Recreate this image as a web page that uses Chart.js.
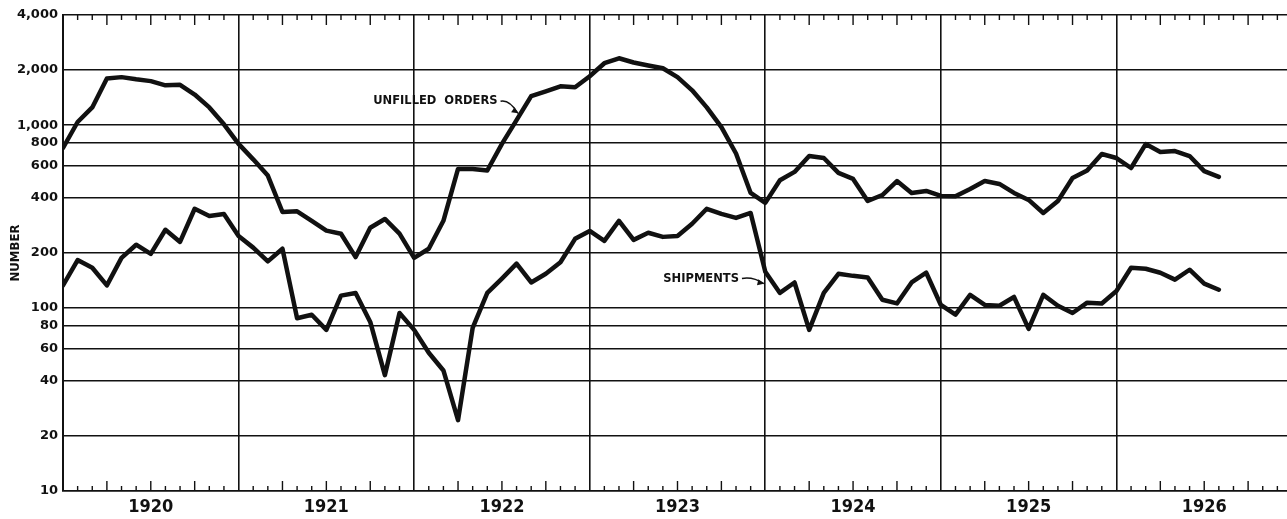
<!DOCTYPE html>
<html>
<head>
<meta charset="utf-8">
<script src="https://cdn.jsdelivr.net/npm/chart.js@4/dist/chart.umd.min.js"></script>
<style>
  html, body { margin: 0; padding: 0; background: #fff; overflow: hidden; }
  #wrap { width: 1298px; height: 519px; position: relative; }
</style>
</head>
<body>
<div id="wrap"><canvas id="chart"></canvas></div>
<script>
// monthly values, Jan 1920 .. Aug 1926 (index 0 = Jan 1920)
const years = ['1920', '1921', '1922', '1923', '1924', '1925', '1926'];
const yTicks = [10, 20, 40, 60, 80, 100, 200, 400, 600, 800, 1000, 2000, 4000];

const unfilledOrders = [
  750, 1040, 1250, 1800, 1830, 1780, 1740, 1650, 1660, 1470, 1250, 1010,
  790, 650, 530, 335, 338, 300, 265, 255, 190, 275, 307, 255,
  188, 211, 300, 576, 575, 565, 790, 1065, 1440, 1530, 1630, 1610,
  1850, 2180, 2320, 2200, 2120, 2045, 1830, 1550, 1250, 975, 700, 426,
  376, 500, 555, 678, 661, 548, 508, 385, 415, 495, 426, 437,
  410, 408, 448, 495, 477, 426, 390, 331, 385, 514, 565, 695,
  661, 583, 788, 713, 722, 678, 561, 521
];

const shipments = [
  133, 183, 166, 133, 188, 222, 198, 268, 230, 349, 319, 327,
  248, 214, 180, 211, 88, 92, 76, 117, 121, 84, 43, 94,
  76, 57, 45.6, 24.4, 78, 121, 145, 175, 138, 154, 178, 239,
  264, 233, 300, 236, 258, 245, 248, 289, 349, 327, 311, 331,
  158, 121, 138, 76, 121, 154, 150, 147, 111, 106, 138, 156,
  104, 92, 118, 104, 103, 115, 77, 118, 103, 94, 107, 106,
  124, 166, 164, 156, 143, 162, 136, 126
];

// labels drawn on the plot, anchored in data units (month index, value)
const notes = [
  { text: 'UNFILLED  ORDERS', x: 29.7, y: 1352, ax: 31.1, ay: 1161 },
  { text: 'SHIPMENTS', x: 46.2, y: 145, ax: 47.9, ay: 136 }
];

const ink = '#111';
const totalMonths = years.length * 12;

const toPoints = (arr) => arr.map((v, i) => ({ x: i, y: v }));

Chart.defaults.font.family = "'DejaVu Sans', sans-serif";
Chart.defaults.color = ink;

// small month ticks along top and bottom edges, longer on quarters
const monthTicks = {
  id: 'monthTicks',
  afterDraw(chart) {
    const { ctx, chartArea, scales: { x } } = chart;
    ctx.save();
    ctx.strokeStyle = ink;
    ctx.lineWidth = 1.4;
    for (let m = 1; m < totalMonths; m++) {
      if (m % 12 === 0) continue;
      const len = m % 3 === 0 ? 10 : 5;
      const px = x.getPixelForValue(m);
      ctx.beginPath();
      ctx.moveTo(px, chartArea.top);
      ctx.lineTo(px, chartArea.top + len);
      ctx.moveTo(px, chartArea.bottom);
      ctx.lineTo(px, chartArea.bottom - len);
      ctx.stroke();
    }
    ctx.restore();
  }
};

const seriesNotes = {
  id: 'seriesNotes',
  afterDatasetsDraw(chart) {
    const { ctx, scales: { x, y } } = chart;
    ctx.save();
    ctx.fillStyle = ink;
    ctx.strokeStyle = ink;
    ctx.font = "bold 11.5px 'DejaVu Sans', sans-serif";
    ctx.textAlign = 'right';
    ctx.textBaseline = 'middle';
    notes.forEach(n => {
      const tx = x.getPixelForValue(n.x);
      const ty = y.getPixelForValue(n.y);
      ctx.fillText(n.text, tx, ty);
      const sx = tx + 3, sy = ty;
      const ex = x.getPixelForValue(n.ax);
      const ey = y.getPixelForValue(n.ay);
      ctx.lineWidth = 1.5;
      ctx.beginPath();
      ctx.moveTo(sx, sy);
      ctx.quadraticCurveTo((sx + ex) / 2, sy - 2, ex, ey);
      ctx.stroke();
      const ang = Math.atan2(ey - sy, ex - sx);
      ctx.beginPath();
      ctx.moveTo(ex, ey);
      ctx.lineTo(ex - 7 * Math.cos(ang - 0.45), ey - 7 * Math.sin(ang - 0.45));
      ctx.lineTo(ex - 7 * Math.cos(ang + 0.45), ey - 7 * Math.sin(ang + 0.45));
      ctx.closePath();
      ctx.fill();
    });
    ctx.restore();
  }
};

const lineStyle = {
  borderColor: ink,
  borderWidth: 4.5,
  pointRadius: 0,
  tension: 0,
  borderJoinStyle: 'round',
  borderCapStyle: 'round',
  fill: false
};

new Chart(document.getElementById('chart').getContext('2d'), {
  type: 'line',
  data: {
    datasets: [
      { label: 'Unfilled orders', data: toPoints(unfilledOrders), ...lineStyle },
      { label: 'Shipments', data: toPoints(shipments), ...lineStyle }
    ]
  },
  plugins: [monthTicks, seriesNotes],
  options: {
    responsive: true,
    maintainAspectRatio: false,
    animation: false,
    layout: { padding: { top: 15, right: 0, left: 0, bottom: 0 } },
    plugins: {
      legend: { display: false },
      tooltip: { enabled: false }
    },
    scales: {
      x: {
        type: 'linear',
        min: 0,
        max: totalMonths,
        afterBuildTicks: (scale) => {
          scale.ticks = Array.from({ length: totalMonths + 1 }, (_, i) => ({ value: i }));
        },
        afterFit: (scale) => { scale.height = 28; },
        ticks: {
          autoSkip: false,
          maxRotation: 0,
          padding: 6,
          font: { size: 18, weight: 'bold', family: "'DejaVu Sans Condensed', 'DejaVu Sans', sans-serif" },
          callback: (v) => (v % 12 === 6 ? years[(v - 6) / 12] : '')
        },
        grid: {
          drawTicks: false,
          lineWidth: 1.6,
          color: (c) => (c.tick && c.tick.value % 12 === 0 ? ink : 'rgba(0,0,0,0)')
        },
        border: { display: true, color: ink, width: 1.6 }
      },
      y: {
        type: 'logarithmic',
        min: 10,
        max: 4000,
        afterBuildTicks: (scale) => {
          scale.ticks = yTicks.map(v => ({ value: v }));
        },
        afterFit: (scale) => { scale.width = 63; },
        ticks: {
          padding: 5,
          font: { size: 13, weight: 'bold' },
          callback: (v) => Number(v).toLocaleString('en-US')
        },
        grid: { drawTicks: false, lineWidth: 1.5, color: ink },
        border: { display: true, color: ink, width: 2 },
        title: {
          display: true,
          text: 'NUMBER',
          font: { size: 13, weight: 'bold', family: "'DejaVu Sans Condensed', 'DejaVu Sans', sans-serif" },
          padding: { top: 8, bottom: 0 }
        }
      }
    }
  }
});
</script>
</body>
</html>
